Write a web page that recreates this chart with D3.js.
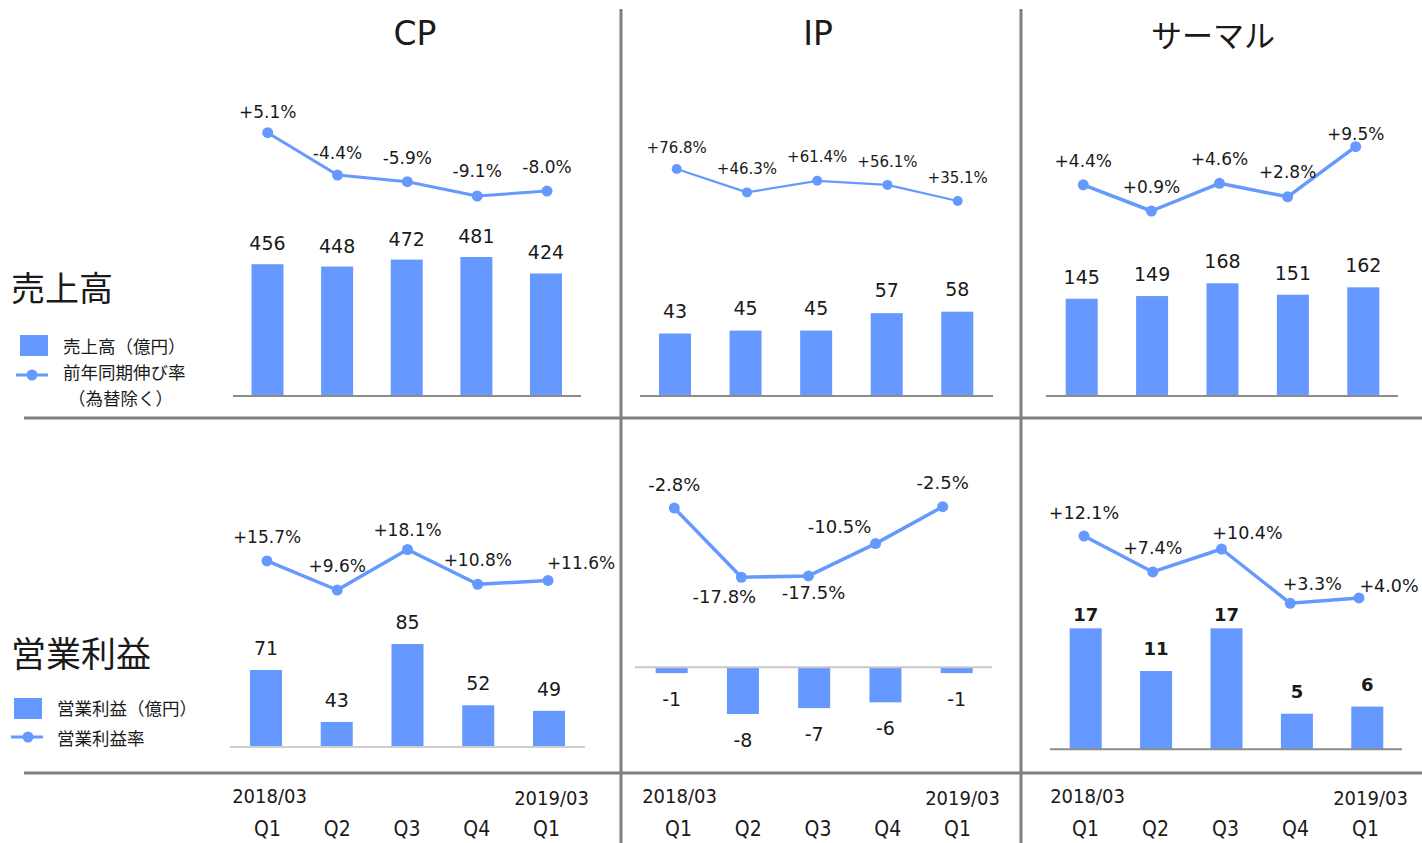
<!DOCTYPE html>
<html><head><meta charset="utf-8">
<script src="https://cdn.jsdelivr.net/npm/d3@7"></script>
<style>body{margin:0;background:#fff} svg{display:block}</style>
</head><body>
<svg id="c" width="1422" height="843"></svg>
<script>
// ---------- data ----------
const quarterKeys = ["2018Q1","2018Q2","2018Q3","2018Q4","2019Q1"];
const quarterLabels = ["Q1","Q2","Q3","Q4","Q1"];
const periodLabels = ["2018/03","","","","2019/03"];
const segments = ["CP","IP","サーマル"];
const rowTitles = ["売上高","営業利益"];
const salesCP = [456,448,472,481,424];
const salesIP = [43,45,45,57,58];
const salesTH = [145,149,168,151,162];
const growthCP = [5.1,-4.4,-5.9,-9.1,-8.0];
const growthIP = [76.8,46.3,61.4,56.1,35.1];
const growthTH = [4.4,0.9,4.6,2.8,9.5];
const profitCP = [71,43,85,52,49];
const profitIP = [-1,-8,-7,-6,-1];
const profitTH = [17,11,17,5,6];
const marginCP = [15.7,9.6,18.1,10.8,11.6];
const marginIP = [-2.8,-17.8,-17.5,-10.5,-2.5];
const marginTH = [12.1,7.4,10.4,3.3,4.0];
const legendTop = ["売上高（億円）","前年同期伸び率","（為替除く）"];
const legendBottom = ["営業利益（億円）","営業利益率"];

// ---------- layout ----------
const BLUE = "#6699ff", GRID = "#808080", TXT = "#1a1a1a";
const NUM_FONT = "'DejaVu Sans', Verdana, sans-serif";
const JP_FONT = "'Noto Sans CJK JP', sans-serif";
const panels = [
  {bars:salesCP, line:growthCP, barX:[267.5,546], lineX:[267.7,547], base:0, baseY:396, extY:257,
   lineY:[196,132.7], axis:[233,581], axisColor:"#8c8c8c", lw:3, lf:17,
   nudge:[[0,-21],[0,-22],[0,-24],[0,-25],[0,-24]], barDy:[-21,-21,-21,-21,-21], bold:false},
  {bars:salesIP, line:growthIP, barX:[675,957.3], lineX:[676.7,957.7], base:0, baseY:396, extY:311.7,
   lineY:[201,169], axis:[640,993], axisColor:"#8c8c8c", lw:2.2, lf:15,
   nudge:[[0,-21],[0,-23],[0,-24],[0,-23],[0,-23]], barDy:[-23,-23,-23,-23,-23], bold:false},
  {bars:salesTH, line:growthTH, barX:[1081.7,1363.3], lineX:[1083.3,1355.7], base:0, baseY:396, extY:283.3,
   lineY:[211,146.7], axis:[1046,1398], axisColor:"#8c8c8c", lw:3.5, lf:17,
   nudge:[[0,-24],[0,-24],[0,-24],[0,-25],[0,-13]], barDy:[-22,-22,-22,-22,-22], bold:false},
  {bars:profitCP, line:marginCP, barX:[266,549], lineX:[267,548], base:29.5, baseY:747, extY:644,
   lineY:[590,549.5], axis:[230,585], axisColor:"#cfcfcf", lw:3.5, lf:17,
   nudge:[[0,-24],[0,-24],[0,-20],[0,-24],[33,-17]], barDy:[-22,-22,-22,-22,-22], bold:false},
  {bars:profitIP, line:marginIP, barX:[671.7,956.7], lineX:[674.3,942.7], base:0, baseY:667.3, extY:714,
   lineY:[577.3,506.7], axis:[635,992], axisColor:"#c8c8c8", lw:3.5, lf:18,
   nudge:[[0,-24],[-17,19],[5,17],[-36,-17],[0,-24]], barDy:[26,26,26,26,26], bold:false},
  {bars:profitTH, line:marginTH, barX:[1085.7,1367.3], lineX:[1084,1359], base:0, baseY:749.3, extY:628.3,
   lineY:[603.3,536], axis:[1050,1402], axisColor:"#8c8c8c", lw:3.5, lf:17.5,
   nudge:[[0,-23],[0,-24],[26,-16],[22,-19],[30,-12]], barDy:[-14,-23,-14,-22,-22], bold:true}
];
const colCenters = [415, 818, 1213];
const periodX = [[269,551],[679,962],[1087,1370]];
const qX = [[267,546],[678,957],[1085,1365]];

const svg = d3.select("#c");
const fmtPct = v => (v > 0 ? "+" : "") + v.toFixed(1) + "%";

// dividers
const dividers = [
  {x1:621,y1:9,x2:621,y2:843},{x1:1021,y1:9,x2:1021,y2:843},
  {x1:24,y1:418,x2:1422,y2:418},{x1:24,y1:773,x2:1422,y2:773}
];
svg.selectAll("line.div").data(dividers).join("line").attr("class","div")
  .attr("x1",d=>d.x1).attr("y1",d=>d.y1).attr("x2",d=>d.x2).attr("y2",d=>d.y2)
  .attr("stroke",GRID).attr("stroke-width",3);

// column titles
svg.selectAll("text.title").data(segments).join("text").attr("class","title")
  .attr("x",(d,i)=>colCenters[i]).attr("y",33).attr("text-anchor","middle")
  .attr("dominant-baseline","central").attr("fill",TXT)
  .style("font-family", (d,i)=> i<2 ? "'DejaVu Sans', sans-serif" : JP_FONT)
  .style("font-size",(d,i)=> i<2 ? "33px" : "31px").text(d=>d);

// row titles
svg.selectAll("text.row").data(rowTitles).join("text").attr("class","row")
  .attr("x",11).attr("y",(d,i)=>[286,651][i]).attr("dominant-baseline","central")
  .attr("fill",TXT).style("font-family",JP_FONT).style("font-size",(d,i)=>i?"35px":"34px").text(d=>d);

// legends
function legend(rx, ry, lx, ly, cx, tx, texts, ty){
  svg.append("rect").attr("x",rx).attr("y",ry).attr("width",28).attr("height",21).attr("fill",BLUE);
  svg.append("line").attr("x1",lx[0]).attr("x2",lx[1]).attr("y1",ly).attr("y2",ly)
    .attr("stroke",BLUE).attr("stroke-width",3);
  svg.append("circle").attr("cx",cx).attr("cy",ly).attr("r",5.5).attr("fill",BLUE);
  texts.forEach((t,i)=>{
    svg.append("text").attr("x",tx[i]).attr("y",ty[i]).attr("dominant-baseline","central")
      .attr("fill",TXT).style("font-family",JP_FONT).style("font-size","17.5px").text(t);
  });
}
legend(20,335,[16,48],375,32,[63,63,68],legendTop,[345,371,397]);
legend(14,698,[11,43],737,28,[57,57],legendBottom,[707,737]);

// panels
panels.forEach(p=>{
  const g = svg.append("g");
  const xb = d3.scalePoint().domain(quarterKeys).range(p.barX);
  const xl = d3.scalePoint().domain(quarterKeys).range(p.lineX);
  const ext = p.bars.some(v=>v<0) ? d3.min(p.bars) : d3.max(p.bars);
  const yb = d3.scaleLinear().domain([p.base, ext]).range([p.baseY, p.extY]);
  const yl = d3.scaleLinear().domain(d3.extent(p.line)).range(p.lineY);
  const bw = 32;
  const rows = quarterKeys.map((k,i)=>({k, v:p.bars[i], r:p.line[i], i}));

  g.selectAll("rect").data(rows).join("rect")
    .attr("x",d=>xb(d.k)-bw/2).attr("width",bw)
    .attr("y",d=>Math.min(yb(d.v), yb(p.base))).attr("height",d=>Math.abs(yb(d.v)-yb(p.base)))
    .attr("fill",BLUE);
  g.append("line").attr("x1",p.axis[0]).attr("x2",p.axis[1])
    .attr("y1",yb(p.base)).attr("y2",yb(p.base)).attr("stroke",p.axisColor).attr("stroke-width",2);

  g.selectAll("text.bl").data(rows).join("text").attr("class","bl")
    .attr("x",d=>xb(d.k))
    .attr("y",d=>yb(d.v) + p.barDy[d.i])
    .attr("text-anchor","middle").attr("dominant-baseline","central").attr("fill",TXT)
    .style("font-family",NUM_FONT).style("font-size", p.bold ? "18px" : "19px")
    .style("font-weight", p.bold ? "bold" : "normal").text(d=>d.v);

  const ln = d3.line().x(d=>xl(d.k)).y(d=>yl(d.r));
  g.append("path").datum(rows).attr("d",ln).attr("fill","none")
    .attr("stroke",BLUE).attr("stroke-width",p.lw).attr("stroke-linejoin","round");
  g.selectAll("circle").data(rows).join("circle")
    .attr("cx",d=>xl(d.k)).attr("cy",d=>yl(d.r)).attr("r",p.lw<3?5:5.5).attr("fill",BLUE);
  g.selectAll("text.ll").data(rows).join("text").attr("class","ll")
    .attr("x",d=>xl(d.k)+p.nudge[d.i][0]).attr("y",d=>yl(d.r)+p.nudge[d.i][1])
    .attr("text-anchor","middle").attr("dominant-baseline","central").attr("fill",TXT)
    .style("font-family",NUM_FONT).style("font-size",p.lf+"px").text(d=>fmtPct(d.r));
});

// bottom axes
qX.forEach((r,ci)=>{
  const xq = d3.scalePoint().domain(quarterKeys).range(r);
  const axQ = d3.axisBottom(xq).tickSize(0).tickPadding(0).tickFormat((d,i)=>quarterLabels[i]);
  const gq = svg.append("g").attr("transform","translate(0,821)").call(axQ);
  gq.select(".domain").remove();
  gq.selectAll("text").attr("fill",TXT).style("font-family","'DejaVu Sans Condensed','DejaVu Sans',sans-serif")
    .style("font-stretch","condensed").style("font-size","21px");
  const xp = d3.scalePoint().domain(quarterKeys).range(periodX[ci]);
  const axP = d3.axisBottom(xp).tickSize(0).tickPadding(0).tickFormat((d,i)=>periodLabels[i]);
  const gp = svg.append("g").attr("transform","translate(0,786)").call(axP);
  gp.select(".domain").remove();
  gp.selectAll("text").attr("fill",TXT).style("font-family","'DejaVu Sans Condensed','DejaVu Sans',sans-serif")
    .style("font-stretch","condensed").style("font-size","20px")
    .attr("dy",(d,i)=> i===4 ? "0.95em" : "0.85em");
});
</script>
</body></html>
